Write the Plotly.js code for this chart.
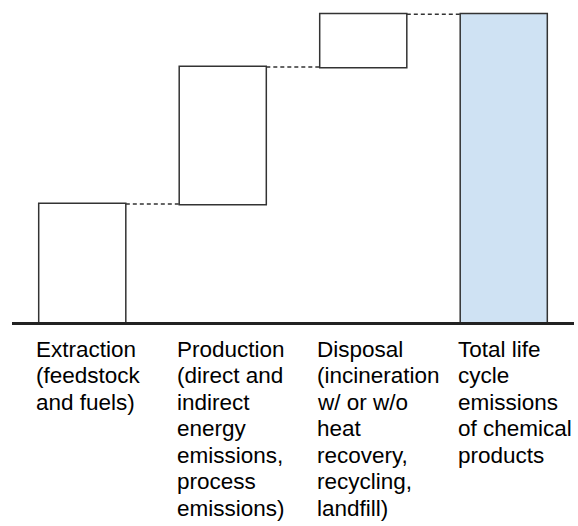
<!DOCTYPE html>
<html>
<head>
<meta charset="utf-8">
<script src="https://cdn.plot.ly/plotly-3.0.1.min.js"></script>
<style>html,body{margin:0;padding:0;background:#fff;}#chart{width:578px;height:526px;}</style>
</head>
<body>
<div id="chart"></div>
<script>
// Stages of the waterfall
const categories = ['Extraction', 'Production', 'Disposal', 'Total'];
// Relative contributions (share of total)
const values = [38.3, 44.5, 17.2, 0];
const measures = ['relative', 'relative', 'relative', 'total'];
// Multi-line labels under each bar
const labelLines = [
  ['Extraction', '(feedstock', 'and fuels)'],
  ['Production', '(direct and', 'indirect', 'energy', 'emissions,', 'process', 'emissions)'],
  ['Disposal', '(incineration', 'w/ or w/o', 'heat', 'recovery,', 'recycling,', 'landfill)'],
  ['Total life', 'cycle', 'emissions', 'of chemical', 'products']
];

const outline = '#333333';
const annotations = [];
labelLines.forEach((lines, i) => {
  lines.forEach((txt, j) => {
    annotations.push({
      x: categories[i], xref: 'x', xanchor: 'left', xshift: -48,
      y: 0, yref: 'paper', yanchor: 'middle', yshift: -(27 + j * 26.5),
      text: txt, showarrow: false,
      font: {family: 'Liberation Sans, Arial, sans-serif', size: 22.5, color: '#000000'}
    });
  });
});

const trace = {
  type: 'waterfall',
  x: categories,
  y: values,
  measure: measures,
  width: 0.62,
  increasing: {marker: {color: '#ffffff', line: {color: outline, width: 1.5}}},
  decreasing: {marker: {color: '#ffffff', line: {color: outline, width: 1.5}}},
  totals: {marker: {color: '#cfe2f3', line: {color: outline, width: 1.5}}},
  connector: {mode: 'between', line: {color: outline, width: 1.5, dash: '4px,3px'}},
  text: ['', '', '', ''],
  textposition: 'none',
  hoverinfo: 'skip',
  cliponaxis: false
};

const layout = {
  width: 578, height: 526,
  margin: {l: 12, r: 4, t: 8, b: 204},
  paper_bgcolor: '#ffffff', plot_bgcolor: '#ffffff',
  showlegend: false,
  xaxis: {
    type: 'category', range: [-0.5, 3.5],
    showline: true, linecolor: '#222222', linewidth: 2.5,
    showticklabels: false, ticks: '', showgrid: false, zeroline: false, fixedrange: true
  },
  yaxis: {
    range: [0, 102], visible: false, showgrid: false, zeroline: false, fixedrange: true
  },
  annotations: annotations
};

Plotly.newPlot('chart', [trace], layout, {displayModeBar: false, staticPlot: true});
</script>
</body>
</html>
